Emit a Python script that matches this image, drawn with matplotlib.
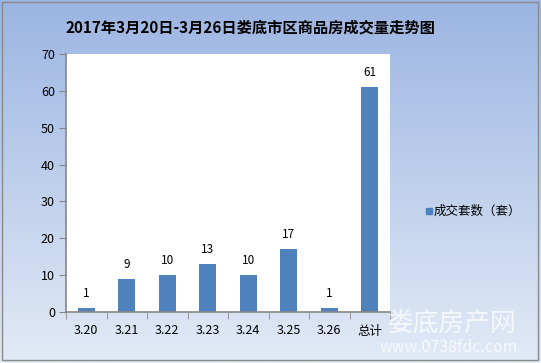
import numpy as np
import matplotlib.pyplot as plt

plt.rcParams['font.family'] = ['Noto Sans CJK SC', 'DejaVu Sans']

days = ["3.20", "3.21", "3.22", "3.23", "3.24", "3.25", "3.26", "总计"]
sales = [1, 9, 10, 13, 10, 17, 1, 61]
yticks = [0, 10, 20, 30, 40, 50, 60, 70]

W, H = 541, 363
fig = plt.figure(figsize=(W / 100, H / 100), dpi=100)

# gradient background
bg = fig.add_axes([0, 0, 1, 1])
grad = np.linspace(0, 1, 256).reshape(-1, 1)
top = np.array([0x9b, 0xb5, 0xe2]) / 255
bot = np.array([0xe2, 0xea, 0xf6]) / 255
img = top + (bot - top) * grad[:, :, None]
bg.imshow(img, aspect='auto', extent=[0, 1, 0, 1])
bg.set_xlim(0, 1)
bg.set_ylim(0, 1)
bg.axis('off')
bg.add_patch(plt.Rectangle((0.004, 0.008), 0.99, 0.986, fill=False, ec='#8a8a8a', lw=1))

gray = '#868686'
ax = fig.add_axes([66 / W, 1 - 312 / H, (390 - 66) / W, (312 - 54) / H])
ax.set_facecolor('white')
x = np.arange(len(days))
ax.bar(x, sales, width=0.42, color='#4f81bd', zorder=2)
for xi, v in zip(x, sales):
    ax.text(xi, v + 2.2, str(v), ha='center', va='bottom', fontsize=8.5, color='black')
ax.set_xlim(-0.5, len(days) - 0.5)
ax.set_ylim(0, 70)
ax.set_yticks(yticks)
ax.set_yticklabels([str(t) for t in yticks], fontsize=9)
ax.set_xticks(x)
ax.set_xticklabels(days, fontsize=9)
ax.set_xticks(np.arange(-0.5, len(days), 1), minor=True)
ax.tick_params(axis='x', which='major', length=0, pad=9)
ax.tick_params(axis='x', which='minor', length=5, color=gray, direction='out')
ax.tick_params(axis='y', length=5, color=gray, direction='out', pad=3)
for s in ['top', 'right']:
    ax.spines[s].set_visible(False)
for s in ['left', 'bottom']:
    ax.spines[s].set_color(gray)
    ax.spines[s].set_linewidth(1.2)

fig.text(250 / W, 1 - 28 / H, "2017年3月20日-3月26日娄底市区商品房成交量走势图",
         ha='center', va='center', fontsize=11, fontweight='bold')

# legend
fig.patches.append(plt.Rectangle((426 / W, 1 - 214 / H), 6 / W, 6 / H,
                                 transform=fig.transFigure, color='#4f81bd'))
fig.text(434 / W, 1 - 211 / H, "成交套数（套）", ha='left', va='center', fontsize=9)

# watermark
fig.text(452 / W, 1 - 325 / H, "娄底房产网", ha='center', va='center', fontsize=18.5,
         color='white', alpha=0.75)
fig.text(449 / W, 1 - 348 / H, "www.0738fdc.com", ha='center', va='center', fontsize=11.5,
         color='white', alpha=0.75)

fig.savefig('out.png', dpi=100)
